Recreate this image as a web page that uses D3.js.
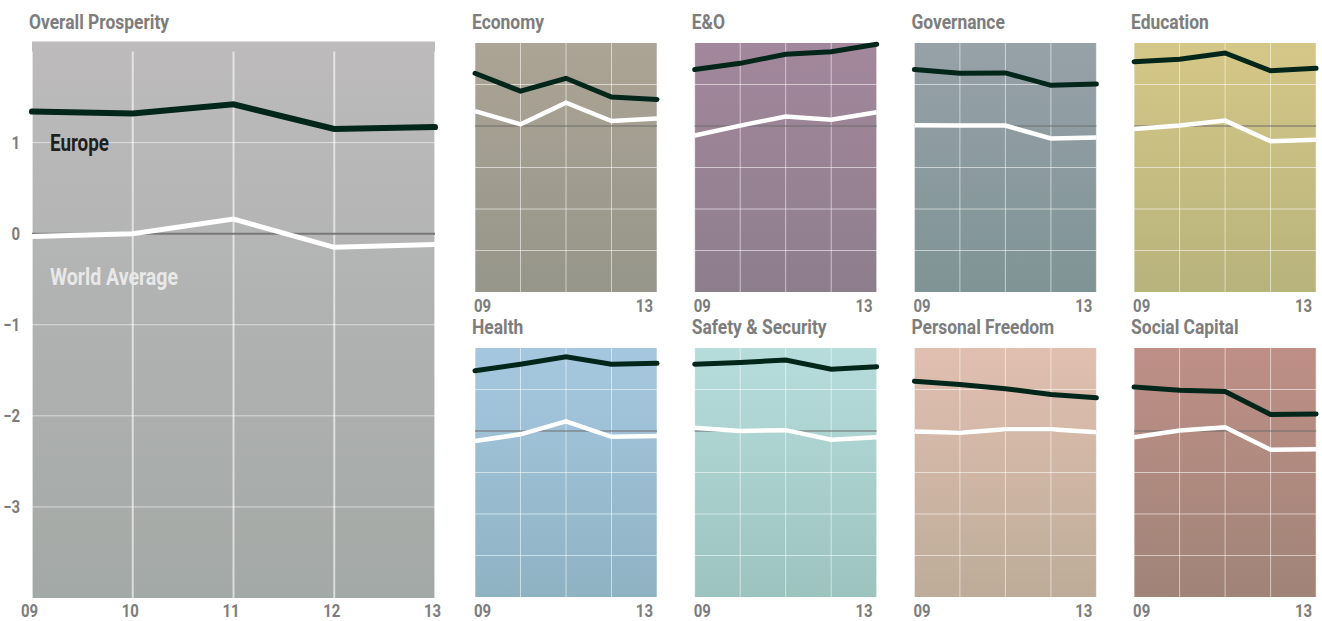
<!DOCTYPE html>
<html>
<head>
<meta charset="utf-8">
<script src="https://cdn.jsdelivr.net/npm/d3@7"></script>
<style>
    body { margin: 0; background: #fff; }
    svg text { font-family: Roboto, "Liberation Sans", sans-serif; font-weight: 700; }
    .chart-title { fill: #7d7d7d; font-size: 21px; }
    .tick-text { fill: #7d7d7d; font-size: 18px; }
    .grid-line { stroke: #ffffff; stroke-opacity: 0.55; stroke-width: 1; }
    .zero-line { stroke: #6c6c6c; stroke-width: 1; }
    .europe-line { fill: none; stroke: #02261a; stroke-width: 5; stroke-linejoin: miter; stroke-linecap: round; }
    .world-line { fill: none; stroke: #ffffff; stroke-width: 4.5; stroke-linejoin: miter; }
</style>
</head>
<body>
<div id="chart"></div>
<script>
// years on the x axis
const years = ["09", "10", "11", "12", "13"];
const yTicks = [1, 0, -1, -2, -3];
const gridValues = [1, -1, -2, -3];

// overall prosperity index
const europeOverall = [1.34, 1.32, 1.42, 1.15, 1.17];
const worldOverall = [-0.03, 0.0, 0.16, -0.15, -0.12];

// sub-indexes
const categories = ["Economy", "E&O", "Governance", "Education",
    "Health", "Safety & Security", "Personal Freedom", "Social Capital"];
const europeValues = [
    [1.27, 0.84, 1.15, 0.70, 0.64],
    [1.36, 1.51, 1.73, 1.79, 1.97],
    [1.36, 1.27, 1.28, 0.98, 1.01],
    [1.55, 1.61, 1.76, 1.33, 1.39],
    [1.45, 1.61, 1.79, 1.61, 1.63],
    [1.61, 1.65, 1.71, 1.49, 1.55],
    [1.20, 1.12, 1.02, 0.88, 0.80],
    [1.06, 0.98, 0.95, 0.40, 0.41]
];
const worldValues = [
    [0.36, 0.04, 0.56, 0.12, 0.18],
    [-0.23, 0.01, 0.23, 0.15, 0.33],
    [0.02, 0.01, 0.01, -0.30, -0.28],
    [-0.07, 0.01, 0.13, -0.37, -0.33],
    [-0.24, -0.08, 0.23, -0.14, -0.12],
    [0.08, 0.00, 0.02, -0.21, -0.15],
    [-0.01, -0.04, 0.04, 0.04, -0.03],
    [-0.15, 0.01, 0.09, -0.45, -0.44]
];

// background gradients (top, bottom)
const overallColors = ["#bdbbbc", "#a3a9a6"];
const panelColors = [
    ["#aca495", "#96968a"],
    ["#a3879c", "#8d7e8c"],
    ["#97a1a8", "#7f9495"],
    ["#d5c787", "#b7b37c"],
    ["#a5c8e0", "#8fb2c3"],
    ["#b6dddc", "#9cc3be"],
    ["#e1bfb0", "#bdac99"],
    ["#be8f87", "#a08477"]
];

// no condensed font offline, so squeeze the text horizontally
function placeText(sel, x, y, squeeze) {
    squeeze = squeeze || 0.83;
    return sel.attr("transform", (d, i) => {
        let px = typeof x === "function" ? x(d, i) : x;
        let py = typeof y === "function" ? y(d, i) : y;
        return "translate(" + px + "," + py + ") scale(" + squeeze + ",1)";
    });
}

function LineChart(svg, cfg) {
    let vis = this;
    vis.svg = svg;
    vis.cfg = cfg;
    vis.initVis();
}

LineChart.prototype.initVis = function() {
    let vis = this;
    let c = vis.cfg;

    vis.g = vis.svg.append("g")
        .attr("transform", "translate(" + c.x + ", " + c.y + ")");

    vis.xScale = d3.scalePoint()
        .domain(years)
        .range([0, c.width]);

    vis.yScale = d3.scaleLinear()
        .domain([-4, 2])
        .range([c.height, 0]);

    // background gradient
    let grad = vis.svg.select("defs").append("linearGradient")
        .attr("id", "bg-" + c.id)
        .attr("x1", 0).attr("y1", 0).attr("x2", 0).attr("y2", 1);
    grad.append("stop").attr("offset", "0%").attr("stop-color", c.colors[0]);
    grad.append("stop").attr("offset", "100%").attr("stop-color", c.colors[1]);

    vis.g.append("rect")
        .attr("x", 0)
        .attr("y", -c.pad)
        .attr("width", c.width)
        .attr("height", c.height + c.pad)
        .attr("fill", "url(#bg-" + c.id + ")");

    placeText(vis.g.append("text"), -3, -c.titleGap)
        .attr("class", "chart-title")
        .text(c.title);

    vis.updateVis();
}

LineChart.prototype.updateVis = function() {
    let vis = this;
    let c = vis.cfg;

    // grid
    vis.g.selectAll(".v-grid")
        .data(years)
        .enter()
        .append("line")
        .attr("class", "grid-line v-grid")
        .attr("x1", d => vis.xScale(d))
        .attr("x2", d => vis.xScale(d))
        .attr("y1", 0)
        .attr("y2", c.height)
        .style("stroke-width", c.big ? 2 : 1)
        .style("stroke-opacity", c.big ? 0.6 : 0.55);

    vis.g.selectAll(".h-grid")
        .data(gridValues)
        .enter()
        .append("line")
        .attr("class", "grid-line h-grid")
        .attr("x1", 0)
        .attr("x2", c.width)
        .attr("y1", d => vis.yScale(d))
        .attr("y2", d => vis.yScale(d));

    vis.g.append("line")
        .attr("class", "zero-line")
        .attr("x1", 0)
        .attr("x2", c.width)
        .attr("y1", vis.yScale(0))
        .attr("y2", vis.yScale(0))
        .style("stroke-width", c.big ? 2 : 1)
        .style("stroke", c.big ? "#787878" : "#6c6c6c");

    // lines
    let line = d3.line()
        .x((d, i) => vis.xScale(years[i]))
        .y(d => vis.yScale(d));

    vis.g.append("path")
        .attr("class", "world-line")
        .attr("d", line(c.world))
        .style("stroke-width", c.big ? 5 : 4.5);

    vis.g.append("path")
        .attr("class", "europe-line")
        .attr("d", line(c.europe))
        .style("stroke-width", c.big ? 6 : 5);

    // labels
    if (c.big) {
        placeText(vis.g.selectAll(".x-text")
            .data(years)
            .enter()
            .append("text"), d => vis.xScale(d) - 2.5, c.height + 19)
            .attr("class", "tick-text x-text")
            .attr("text-anchor", "middle")
            .text(d => d);

        placeText(vis.g.selectAll(".y-text")
            .data(yTicks)
            .enter()
            .append("text"), -12, d => vis.yScale(d))
            .attr("class", "tick-text y-text")
            .attr("dy", "0.35em")
            .attr("text-anchor", "end")
            .text(d => d < 0 ? "\u2212" + Math.abs(d) : d);

        placeText(vis.g.append("text"), 18, vis.yScale(1) + 8, 0.82)
            .style("font-size", "23px")
            .style("fill", "#1f1f1f")
            .text("Europe");

        placeText(vis.g.append("text"), 18, vis.yScale(0) + 51, 0.85)
            .style("font-size", "23px")
            .style("fill", "#e8e8e8")
            .text("World Average");
    } else {
        let ends = [years[0], years[years.length - 1]];
        placeText(vis.g.selectAll(".x-text")
            .data(ends)
            .enter()
            .append("text"), (d, i) => i === 0 ? vis.xScale(d) - 1 : vis.xScale(d) - 4, c.height + 20)
            .attr("class", "tick-text x-text")
            .attr("text-anchor", (d, i) => i === 0 ? "start" : "end")
            .text(d => d);
    }
}

let svg = d3.select("#chart").append("svg")
    .attr("width", 1322)
    .attr("height", 621);
svg.append("defs");

new LineChart(svg, {
    id: "overall", title: "Overall Prosperity", big: true,
    x: 32, y: 51.5, width: 403, height: 546.5, pad: 10, titleGap: 22.5,
    colors: overallColors, europe: europeOverall, world: worldOverall
});

categories.forEach((cat, i) => {
    let col = i % 4;
    let row = Math.floor(i / 4);
    new LineChart(svg, {
        id: "p" + i, title: cat, big: false,
        x: 475 + col * 219.7, y: 43 + row * 305, width: 182, height: 249, pad: 0, titleGap: 14,
        colors: panelColors[i], europe: europeValues[i], world: worldValues[i]
    });
});
</script>
</body>
</html>
